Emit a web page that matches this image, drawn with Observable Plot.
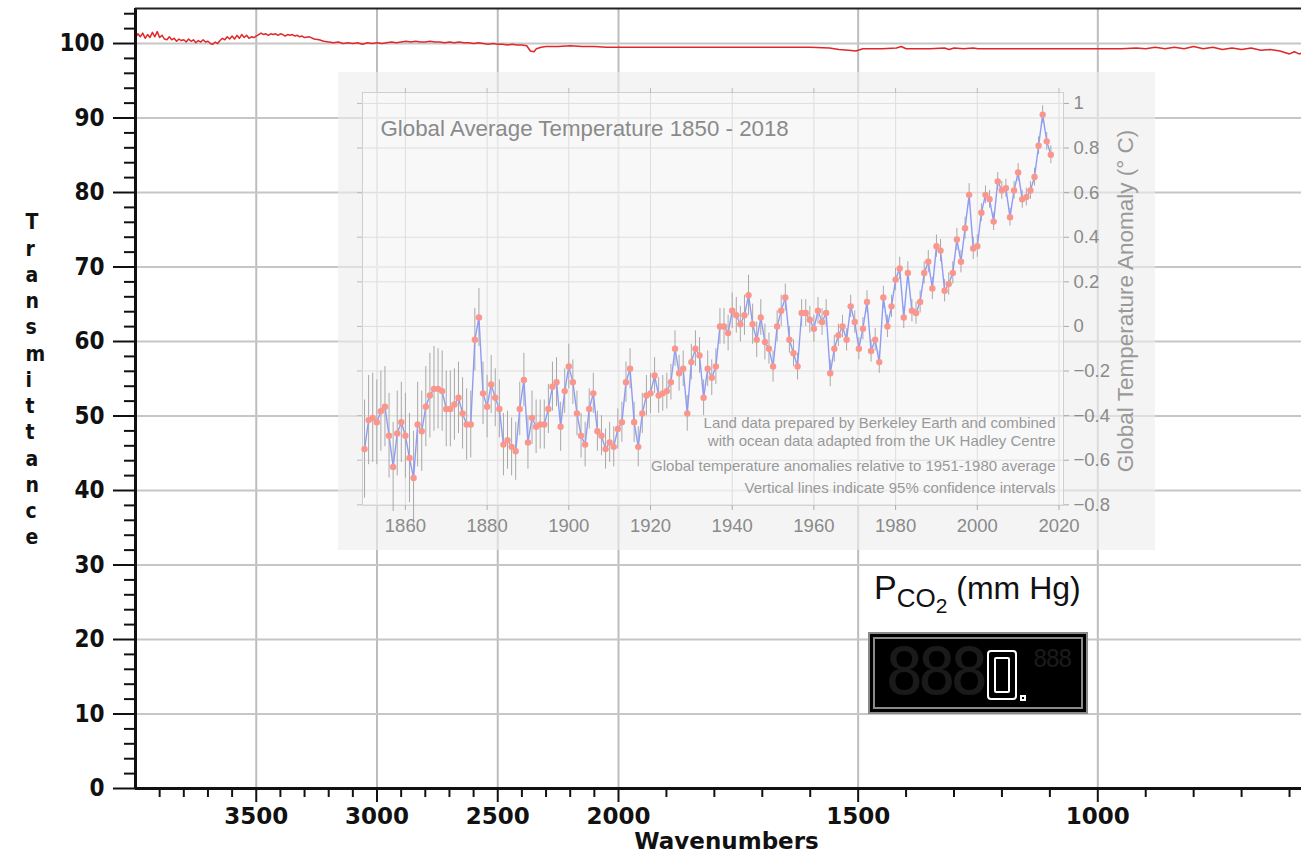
<!DOCTYPE html>
<html><head><meta charset="utf-8">
<script src="https://cdn.jsdelivr.net/npm/d3@7"></script>
<script src="https://cdn.jsdelivr.net/npm/@observablehq/plot@0.6"></script>
<style>
body{margin:0;background:#fff;}
#wrap{position:relative;width:1301px;height:858px;overflow:hidden;background:#fff;}
#main,#inset{position:absolute;left:0;top:0;}
#inset{left:338px;top:72px;}
#pco2lab{position:absolute;left:874px;top:570px;font-family:"Liberation Sans",Arial,sans-serif;color:#111;white-space:nowrap;line-height:1;}
#lcd{position:absolute;left:868px;top:632px;width:206px;height:68px;background:#000;border:7px double #8a8a8a;overflow:hidden;}
#lcd span{position:absolute;font-family:"DejaVu Sans Mono",monospace;white-space:nowrap;}
#lcd .seg0{position:absolute;left:112px;top:11px;width:30px;height:50px;border:2px solid #fff;border-radius:4px;box-sizing:border-box;}
#lcd .seg0 div{position:absolute;left:5px;top:5px;right:5px;bottom:5px;border:2px solid #fff;border-radius:2px;}
#lcd .dot{position:absolute;left:145px;top:56px;width:6px;height:6px;border:2px solid #fff;box-sizing:border-box;}
</style></head><body>
<div id="wrap">
  <div id="main"></div>
  <div id="inset"></div>
  <div id="pco2lab"><span style="font-size:34px">P</span><span style="font-size:26px;position:relative;top:8px">CO</span><span style="font-size:21px;position:relative;top:14px">2</span><span style="font-size:32px"> (mm Hg)</span></div>
  <div id="lcd">
    <span style="left:10px;top:-4px;font-size:64px;color:#1a1a1a;letter-spacing:-6px;">888</span>
    <div class="seg0"><div></div></div>
    <div class="dot"></div>
    <span style="left:158px;top:6px;font-size:24px;color:#1a1a1a;letter-spacing:-2px;">888</span>
  </div>
</div>
<script>
// ---------- Main IR spectrum ----------
const wavenumbers = [
  4000,3990,3980,3970,3960,3950,3940,3930,3920,3910,3900,3890,3880,3870,3860,3850,3840,3830,3820,3810,
  3800,3790,3780,3770,3760,3750,3740,3730,3720,3710,3700,3690,3680,3670,3660,3650,3640,3630,3620,3610,
  3600,3590,3580,3570,3560,3550,3540,3530,3520,3510,3500,3490,3480,3470,3460,3450,3440,3430,3420,3410,
  3400,3390,3380,3370,3360,3350,3340,3330,3320,3310,3300,3280,3260,3240,3220,3200,3180,3160,3140,3120,
  3100,3080,3060,3040,3020,3000,2980,2960,2940,2920,2900,2880,2860,2840,2820,2800,2780,2760,2740,2720,
  2700,2680,2660,2640,2620,2600,2580,2560,2540,2520,2500,2480,2460,2440,2420,2400,2380,2365,2350,2340,
  2320,2300,2250,2200,2150,2100,2050,2000,1950,1900,1850,1800,1750,1700,1650,1600,1560,1540,1520,1505,
  1490,1450,1420,1410,1400,1350,1320,1310,1300,1280,1260,1250,1200,1100,1000,950,920,900,880,860,
  840,820,800,780,760,740,720,700,680,660,640,620,610,600,590,580,575
];
const transmittance = [
  100.8,101.3,100.9,101.4,100.7,101.2,100.8,101.5,100.9,101.6,100.8,101.1,100.6,100.5,100.9,100.5,100.7,100.3,100.6,100.4,
  100.5,100.2,100.6,100.3,100.5,100.1,100.4,100.2,100.5,100.2,100.3,100.0,99.9,100.2,100.0,100.4,100.7,100.5,100.9,100.6,
  101.0,100.6,101.1,100.7,101.2,100.8,101.1,100.7,100.9,100.8,101.0,101.2,101.4,101.2,101.3,101.1,101.3,101.2,101.3,101.1,
  101.3,101.2,101.0,101.2,101.1,101.2,101.0,101.1,100.9,101.0,100.8,100.9,100.6,100.5,100.3,100.2,100.1,100.2,100.0,100.1,
  100.0,100.1,99.9,100.1,100.0,100.1,100.0,100.1,100.2,100.1,100.2,100.3,100.2,100.3,100.2,100.2,100.3,100.2,100.2,100.1,
  100.2,100.1,100.2,100.1,100.1,100.0,100.1,100.0,99.9,100.0,99.9,99.9,99.8,99.9,99.8,99.8,99.7,99.0,98.9,99.3,
  99.5,99.6,99.6,99.7,99.6,99.6,99.5,99.5,99.5,99.5,99.5,99.5,99.5,99.5,99.5,99.5,99.4,99.2,99.1,99.0,
  99.3,99.3,99.4,99.6,99.3,99.3,99.4,99.2,99.4,99.3,99.4,99.3,99.3,99.3,99.3,99.3,99.4,99.3,99.5,99.3,
  99.5,99.3,99.6,99.3,99.5,99.2,99.4,99.2,99.4,99.1,99.2,99.0,98.8,98.6,98.9,98.6,98.7
];
const xMajorTicks = [3500,3000,2500,2000,1500,1000];
const xMinorTicks = [3900,3800,3700,3600,3400,3300,3200,3100,2900,2800,2700,2600,2400,2300,2200,2100,
                     1900,1800,1700,1600,1400,1300,1200,1100,900,800,700,600];
const yMajorTicks = [0,10,20,30,40,50,60,70,80,90,100];
const yMinorTicks = [2,4,6,8,12,14,16,18,22,24,26,28,32,34,36,38,42,44,46,48,52,54,56,58,
                     62,64,66,68,72,74,76,78,82,84,86,88,92,94,96,98,102,104];
const xDomain = [4000, 2000, 575];
const yDomain = [0, 104.7];
const xLabel = "Wavenumbers";
const yLabel = "Transmittance";

// ---------- Inset: global temperature ----------
const years = [
  1850,1851,1852,1853,1854,1855,1856,1857,1858,1859,1860,1861,1862,1863,1864,1865,1866,1867,1868,1869,
  1870,1871,1872,1873,1874,1875,1876,1877,1878,1879,1880,1881,1882,1883,1884,1885,1886,1887,1888,1889,
  1890,1891,1892,1893,1894,1895,1896,1897,1898,1899,1900,1901,1902,1903,1904,1905,1906,1907,1908,1909,
  1910,1911,1912,1913,1914,1915,1916,1917,1918,1919,1920,1921,1922,1923,1924,1925,1926,1927,1928,1929,
  1930,1931,1932,1933,1934,1935,1936,1937,1938,1939,1940,1941,1942,1943,1944,1945,1946,1947,1948,1949,
  1950,1951,1952,1953,1954,1955,1956,1957,1958,1959,1960,1961,1962,1963,1964,1965,1966,1967,1968,1969,
  1970,1971,1972,1973,1974,1975,1976,1977,1978,1979,1980,1981,1982,1983,1984,1985,1986,1987,1988,1989,
  1990,1991,1992,1993,1994,1995,1996,1997,1998,1999,2000,2001,2002,2003,2004,2005,2006,2007,2008,2009,
  2010,2011,2012,2013,2014,2015,2016,2017,2018
];
const anomalies = [
  -0.55,-0.42,-0.41,-0.43,-0.38,-0.36,-0.49,-0.63,-0.48,-0.43,-0.49,-0.59,-0.68,-0.44,-0.47,-0.36,-0.31,-0.28,-0.28,-0.29,
  -0.37,-0.37,-0.35,-0.32,-0.39,-0.44,-0.44,-0.06,0.04,-0.30,-0.36,-0.26,-0.32,-0.37,-0.53,-0.51,-0.54,-0.56,-0.37,-0.24,
  -0.52,-0.41,-0.45,-0.44,-0.44,-0.37,-0.27,-0.25,-0.45,-0.29,-0.18,-0.25,-0.39,-0.49,-0.53,-0.37,-0.30,-0.47,-0.49,-0.55,
  -0.52,-0.54,-0.46,-0.43,-0.25,-0.19,-0.43,-0.54,-0.39,-0.31,-0.30,-0.22,-0.31,-0.30,-0.29,-0.25,-0.10,-0.21,-0.19,-0.39,
  -0.16,-0.10,-0.13,-0.32,-0.19,-0.23,-0.18,0.00,0.00,-0.03,0.07,0.05,0.01,0.05,0.14,0.01,-0.06,0.04,-0.07,-0.10,
  -0.18,0.00,0.07,0.13,-0.06,-0.12,-0.18,0.06,0.06,0.03,-0.01,0.07,0.02,0.06,-0.21,-0.10,-0.04,0.00,-0.06,0.09,
  0.02,-0.10,-0.01,0.11,-0.11,-0.06,-0.16,0.13,0.00,0.09,0.21,0.26,0.04,0.24,0.07,0.06,0.11,0.24,0.29,0.17,
  0.36,0.34,0.16,0.19,0.24,0.39,0.29,0.44,0.59,0.35,0.36,0.51,0.59,0.57,0.47,0.65,0.61,0.62,0.49,0.61,
  0.69,0.57,0.58,0.61,0.67,0.81,0.95,0.83,0.77
];
const uncertainty = [
  0.22,0.20,0.20,0.19,0.18,0.18,0.19,0.20,0.19,0.18,0.19,0.20,0.21,0.19,0.18,0.18,0.19,0.19,0.18,0.18,
  0.17,0.17,0.16,0.16,0.16,0.16,0.15,0.14,0.13,0.14,0.14,0.13,0.13,0.13,0.14,0.13,0.13,0.13,0.12,0.12,
  0.12,0.12,0.12,0.11,0.11,0.11,0.11,0.11,0.11,0.10,0.10,0.10,0.10,0.10,0.10,0.09,0.09,0.09,0.09,0.09,
  0.09,0.09,0.09,0.09,0.09,0.09,0.09,0.09,0.09,0.09,0.09,0.08,0.08,0.08,0.08,0.08,0.08,0.08,0.08,0.08,
  0.08,0.08,0.08,0.08,0.08,0.08,0.08,0.08,0.08,0.08,0.08,0.08,0.08,0.09,0.09,0.09,0.08,0.08,0.08,0.07,
  0.07,0.07,0.07,0.06,0.06,0.06,0.06,0.06,0.06,0.06,0.06,0.06,0.06,0.06,0.06,0.06,0.05,0.05,0.05,0.05,
  0.05,0.05,0.05,0.05,0.05,0.05,0.05,0.05,0.05,0.05,0.05,0.05,0.05,0.05,0.05,0.05,0.05,0.05,0.05,0.05,
  0.05,0.05,0.05,0.05,0.05,0.05,0.05,0.05,0.05,0.05,0.05,0.04,0.04,0.04,0.04,0.04,0.04,0.04,0.04,0.04,
  0.04,0.04,0.04,0.04,0.04,0.04,0.04,0.04,0.04
];
const insetXTicks = [1860,1880,1900,1920,1940,1960,1980,2000,2020];
const insetYTicks = [-0.8,-0.6,-0.4,-0.2,0,0.2,0.4,0.6,0.8,1];
const insetXDomain = [1849.5, 2021.1];
const insetYDomain = [-0.803, 1.049];
const insetTitle = "Global Average Temperature 1850 - 2018";
const insetYLabel = "Global Temperature Anomaly (° C)";
const insetNote1 = "Land data prepared by Berkeley Earth and combined\nwith ocean data adapted from the UK Hadley Centre";
const insetNote2 = "Global temperature anomalies relative to 1951-1980 average";
const insetNote3 = "Vertical lines indicate 95% confidence intervals";

// ---------- build main ----------
const boldFont = '"DejaVu Sans Condensed","DejaVu Sans",sans-serif';
const wideBold = '"DejaVu Sans",sans-serif';
const spectrum = wavenumbers.map((w, i) => ({w, t: transmittance[i]}));
const blank = () => "";

const main = Plot.plot({
  width: 1301, height: 858,
  marginLeft: 135, marginRight: 0, marginTop: 8, marginBottom: 70,
  style: {background: "transparent", fontFamily: boldFont, overflow: "visible", color: "#111"},
  x: {type: "linear", domain: xDomain, range: [135, 618, 1301], label: null},
  y: {domain: yDomain, label: null},
  marks: [
    Plot.gridX(xMajorTicks, {stroke: "#bdbdbd", strokeOpacity: 1, strokeWidth: 2}),
    Plot.gridY(yMajorTicks, {stroke: "#c6c6c6", strokeOpacity: 1, strokeWidth: 2}),
    Plot.line(spectrum, {x: "w", y: "t", stroke: "#e0282a", strokeWidth: 1.5}),
    Plot.axisX(xMinorTicks, {tickSize: 9, tickFormat: blank, stroke: "#111", strokeWidth: 2}),
    Plot.axisX(xMajorTicks, {tickSize: 14, tickPadding: 5, tickFormat: "d", fontSize: 23, fontWeight: "bold", fontFamily: wideBold, stroke: "#111", strokeWidth: 2, fill: "#111"}),
    Plot.axisY(yMinorTicks, {tickSize: 11, tickFormat: blank, stroke: "#111", strokeWidth: 2}),
    Plot.axisY(yMajorTicks, {tickSize: 22, tickPadding: 9, tickFormat: "d", fontSize: 24, fontWeight: "bold", stroke: "#111", strokeWidth: 2, fill: "#111"}),
    Plot.ruleX([xDomain[0]], {stroke: "#111", strokeWidth: 3}),
    Plot.ruleY([yDomain[0]], {stroke: "#111", strokeWidth: 3}),
    Plot.ruleY([yDomain[1]], {stroke: "#222", strokeWidth: 2}),
    Plot.text([xLabel], {frameAnchor: "bottom", dx: 8, dy: 60, fontSize: 23, fontWeight: "bold", fontFamily: wideBold, fill: "#111"}),
    Plot.text([yLabel.split("").join("\n")], {frameAnchor: "left", dx: -110, dy: -20, fontSize: 21, fontWeight: "bold", lineHeight: 1.25, fill: "#111"})
  ]
});
document.getElementById("main").append(main);

// ---------- build inset ----------
const temps = years.map((year, i) => ({year, v: anomalies[i], u: uncertainty[i]}));
const insetFont = '"Liberation Sans", Arial, Helvetica, sans-serif';
const inset = Plot.plot({
  width: 817, height: 478,
  marginLeft: 24, marginRight: 92, marginTop: 20, marginBottom: 45,
  style: {background: "rgba(238,238,238,0.62)", fontFamily: insetFont, overflow: "visible"},
  x: {domain: insetXDomain, label: null},
  y: {domain: insetYDomain, label: null},
  marks: [
    Plot.frame({fill: "white", fillOpacity: 0.4, stroke: "#cfcfcf"}),
    Plot.gridX(insetXTicks, {stroke: "#dedede", strokeOpacity: 1}),
    Plot.gridY(insetYTicks, {stroke: "#dedede", strokeOpacity: 1}),
    Plot.ruleX(temps, {x: "year", y1: d => d.v - d.u, y2: d => d.v + d.u, stroke: "#a8a8a8", strokeWidth: 1}),
    Plot.line(temps, {x: "year", y: "v", stroke: "#8e9cf4", strokeWidth: 1.4}),
    Plot.dot(temps, {x: "year", y: "v", r: 3.2, fill: "#fb968c"}),
    Plot.axisX(insetXTicks, {anchor: "bottom", tickSize: 5, tickPadding: 8, tickFormat: "d", fontSize: 18.5, stroke: "#aaa", fill: "#8a8a8a"}),
    Plot.axisX(insetXTicks, {anchor: "top", tickSize: 5, tickFormat: blank, stroke: "#bbb"}),
    Plot.axisY(insetYTicks, {anchor: "right", tickSize: 5, tickPadding: 5, tickFormat: d3.format(""), fontSize: 18.5, stroke: "#aaa", fill: "#8a8a8a"}),
    Plot.axisY(insetYTicks, {anchor: "left", tickSize: 5, tickFormat: blank, stroke: "#bbb"}),
    Plot.text([insetTitle], {frameAnchor: "top-left", dx: 18, dy: 36, textAnchor: "start", lineAnchor: "middle", fontSize: 22.3, fill: "#8a8a8a"}),
    Plot.text([insetNote1], {frameAnchor: "bottom-right", dx: -8, dy: -74, textAnchor: "end", lineAnchor: "middle", fontSize: 15, lineHeight: 1.15, fill: "#999"}),
    Plot.text([insetNote2], {frameAnchor: "bottom-right", dx: -8, dy: -39, textAnchor: "end", lineAnchor: "middle", fontSize: 15, fill: "#999"}),
    Plot.text([insetNote3], {frameAnchor: "bottom-right", dx: -8, dy: -17, textAnchor: "end", lineAnchor: "middle", fontSize: 15, fill: "#999"}),
    Plot.text([insetYLabel], {frameAnchor: "right", dx: 62, dy: 2, rotate: -90, textAnchor: "middle", lineAnchor: "middle", fontSize: 22.5, fill: "#999"})
  ]
});
document.getElementById("inset").append(inset);
</script>
</body></html>
